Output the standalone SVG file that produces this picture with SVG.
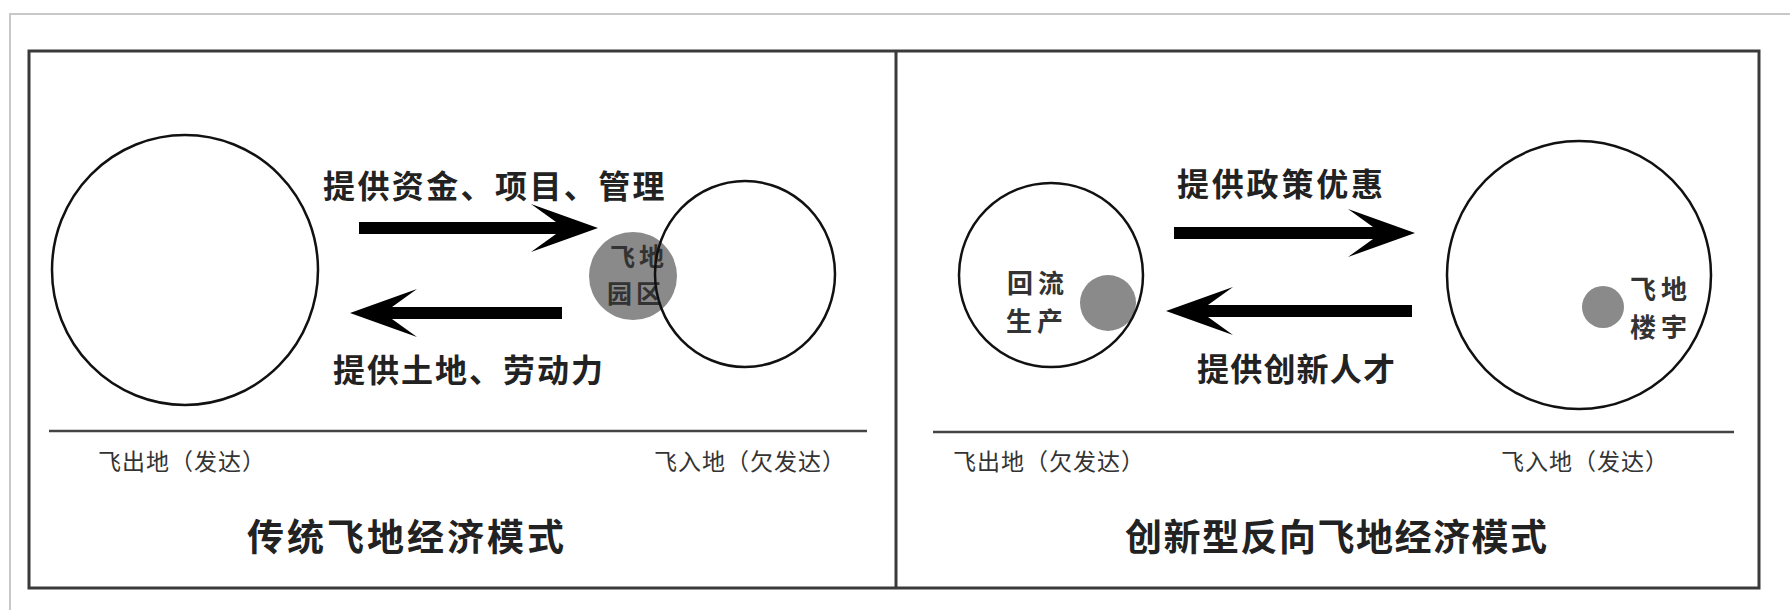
<svg xmlns="http://www.w3.org/2000/svg" width="1790" height="610" viewBox="0 0 1790 610">
<style>
text{font-family:"Noto Sans CJK SC","Noto Sans CJK JP",sans-serif;fill:#222}
.lbl{font-size:32px;font-weight:bold;letter-spacing:2px}
.sub{font-size:23px;letter-spacing:1px;fill:#333}
.ttl{font-size:37px;font-weight:bold}
.in{font-size:26px;font-weight:bold;letter-spacing:5px;fill:#333}
.ring{fill:none;stroke:#111;stroke-width:2.5}
.dot{fill:#8a8a8a}
.axis{stroke:#444;stroke-width:2.5}
.shaft{stroke:#000;stroke-width:12;fill:none;marker-end:url(#head)}
</style>
<defs>
<marker id="head" markerUnits="userSpaceOnUse" markerWidth="70" markerHeight="50" refX="25" refY="24" orient="auto">
<path d="M0,0 L67,24 L0,48 L25,30 L25,18 Z" fill="#000"/>
</marker>
</defs>
<rect width="1790" height="610" fill="#fff"/>
<path d="M10,610 V14 H1790" fill="none" stroke="#c8c8c8" stroke-width="2"/>
<g id="frame">
<rect x="29" y="51" width="1730" height="537" fill="none" stroke="#3a3a3a" stroke-width="3"/>
<line x1="896" y1="51" x2="896" y2="588" stroke="#3a3a3a" stroke-width="3"/>
<line class="axis" x1="49" y1="431" x2="867" y2="431"/>
<line class="axis" x1="933" y1="432" x2="1734" y2="432"/>
</g>
<g id="left-origin">
<ellipse class="ring" cx="185" cy="270" rx="133" ry="135"/>
<text class="sub" x="98" y="470">飞出地（发达）</text>
</g>
<g id="left-park">
<circle class="dot" cx="633" cy="276" r="44"/>
<text class="in" style="font-size:25px;letter-spacing:4px"><tspan x="610" y="266">飞地</tspan><tspan x="607" y="303">园区</tspan></text>
</g>
<g id="left-dest">
<ellipse class="ring" cx="745" cy="274" rx="90" ry="93"/>
<text class="sub" x="654" y="470">飞入地（欠发达）</text>
</g>
<g id="left-title">
<text class="ttl" x="247" y="551" style="letter-spacing:3px">传统飞地经济模式</text>
</g>
<g id="right-origin">
<circle class="dot" cx="1108" cy="303" r="28"/>
<ellipse class="ring" cx="1051" cy="275" rx="92" ry="92"/>
<text class="in"><tspan x="1007" y="293">回流</tspan><tspan x="1006" y="331">生产</tspan></text>
<text class="sub" x="953" y="470">飞出地（欠发达）</text>
</g>
<g id="right-dest">
<ellipse class="ring" cx="1579" cy="275" rx="132" ry="134"/>
<circle class="dot" cx="1603" cy="307" r="21"/>
<text class="in"><tspan x="1630" y="299">飞地</tspan><tspan x="1630" y="337">楼宇</tspan></text>
<text class="sub" x="1501" y="470">飞入地（发达）</text>
</g>
<g id="right-title">
<text class="ttl" x="1125" y="551" style="letter-spacing:1.5px">创新型反向飞地经济模式</text>
</g>
<g id="connectors">
<line class="shaft" x1="359" y1="228" x2="556" y2="228"/>
<line class="shaft" x1="562" y1="313" x2="392" y2="313"/>
<line class="shaft" x1="1174" y1="233" x2="1373" y2="233"/>
<line class="shaft" x1="1412" y1="311" x2="1208" y2="311"/>
<text class="lbl" x="323" y="198" style="letter-spacing:2.4px">提供资金、项目、管理</text>
<text class="lbl" x="333" y="382">提供土地、劳动力</text>
<text class="lbl" x="1177" y="196" style="letter-spacing:2.8px">提供政策优惠</text>
<text class="lbl" x="1197" y="381" style="letter-spacing:1.2px">提供创新人才</text>
</g>
</svg>
